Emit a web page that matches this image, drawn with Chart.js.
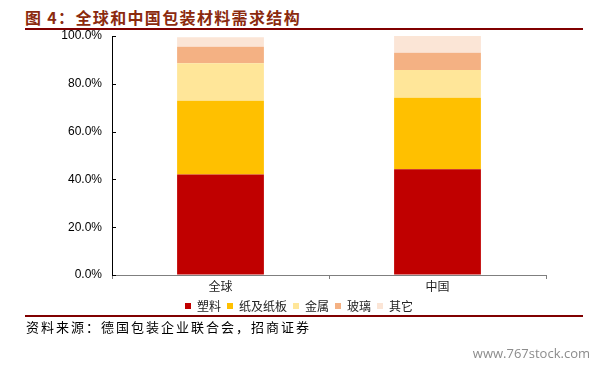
<!DOCTYPE html>
<html lang="zh">
<head>
  <meta charset="UTF-8">
  <title>全球和中国包装材料需求结构</title>
  <script src="https://cdn.jsdelivr.net/npm/chart.js"></script>
  <style>
    body {
      margin: 0;
      padding: 0;
      background: #ffffff;
      font-family: 'Noto Sans CJK SC', sans-serif;
    }

    .page {
      position: relative;
      width: 602px;
      height: 366px;
      overflow: hidden;
    }

    .title {
      position: absolute;
      left: 25px;
      top: 5px;
      font-size: 16px;
      font-weight: bold;
      letter-spacing: 1.35px;
      color: #8b2a0e;
      white-space: nowrap;
    }

    .rule {
      position: absolute;
      left: 25px;
      width: 558px;
      height: 2px;
      background: #800000;
    }

    .source {
      position: absolute;
      left: 26px;
      top: 317px;
      font-size: 13px;
      letter-spacing: 2px;
      color: #000;
      white-space: nowrap;
    }

    .mark {
      position: absolute;
      right: 12px;
      top: 344px;
      font-family: 'Open Sans', sans-serif;
      font-size: 13px;
      color: #8c8c8c;
    }

    .chart-box {
      position: absolute;
      left: 0;
      top: 0;
      width: 602px;
      height: 366px;
    }
  </style>
</head>
<body>
  <div class="page">
    <div class="title">图 4：全球和中国包装材料需求结构</div>
    <div class="rule" style="top: 28px;"></div>
    <div class="chart-box"><canvas id="chart"></canvas></div>
    <div class="rule" style="top: 315px;"></div>
    <div class="source">资料来源：德国包装企业联合会，招商证券</div>
    <div class="mark">www.767stock.com</div>
  </div>

  <script>
    // 数据（百分比）
    const categories = ['全球', '中国'];
    const seriesNames = ['塑料', '纸及纸板', '金属', '玻璃', '其它'];
    const plastic = [42.1, 44.2];
    const paper = [30.8, 30.0];
    const metal = [15.7, 11.6];
    const glass = [6.9, 7.2];
    const other = [4.0, 7.0];
    const yTicks = [0, 20, 40, 60, 80, 100];

    const seriesValues = [plastic, paper, metal, glass, other];
    const colors = ['#c00000', '#ffc000', '#ffe699', '#f4b183', '#fbe5d6'];

    // y 轴内侧刻度
    const innerTicks = {
      id: 'innerTicks',
      afterDraw(chart) {
        const y = chart.scales.y;
        const ctx = chart.ctx;
        const left = Math.round(chart.chartArea.left);
        ctx.save();
        ctx.strokeStyle = '#000';
        ctx.lineWidth = 1;
        yTicks.forEach(t => {
          const py = Math.round(y.getPixelForValue(t)) + 0.5;
          ctx.beginPath();
          ctx.moveTo(left, py);
          ctx.lineTo(left + 4, py);
          ctx.stroke();
        });
        ctx.restore();
      }
    };

    new Chart(document.getElementById('chart'), {
      type: 'bar',
      data: {
        labels: categories,
        datasets: seriesNames.map((name, i) => ({
          label: name,
          data: seriesValues[i],
          backgroundColor: colors[i],
          borderWidth: 0,
          barPercentage: 0.4,
          categoryPercentage: 1.0
        }))
      },
      options: {
        responsive: true,
        maintainAspectRatio: false,
        animation: false,
        layout: {
          padding: { left: 52, right: 56, top: 36, bottom: 44 }
        },
        plugins: {
          legend: {
            position: 'bottom',
            labels: {
              boxWidth: 6,
              boxHeight: 6,
              padding: 6,
              color: '#222',
              font: { family: "'Noto Sans CJK SC', sans-serif", size: 12 }
            }
          },
          tooltip: { enabled: false }
        },
        scales: {
          x: {
            stacked: true,
            offset: true,
            grid: {
              offset: true,
              drawOnChartArea: false,
              drawTicks: true,
              tickLength: 4,
              color: '#7f7f7f'
            },
            border: { color: '#7f7f7f', width: 1 },
            ticks: {
              padding: 1.5,
              color: '#222',
              font: { family: "'Noto Sans CJK SC', sans-serif", size: 12, lineHeight: 1 }
            }
          },
          y: {
            stacked: true,
            min: 0,
            max: 100,
            grid: { drawOnChartArea: false, drawTicks: false },
            border: { color: '#000', width: 1 },
            ticks: {
              stepSize: 20,
              padding: 10,
              color: '#000',
              font: { family: "'Liberation Sans', Arial, sans-serif", size: 12 },
              callback: v => v.toFixed(1) + '%'
            },
            afterFit(scale) { scale.width = 112 - 52; }
          }
        }
      },
      plugins: [innerTicks]
    });
  </script>
</body>
</html>
